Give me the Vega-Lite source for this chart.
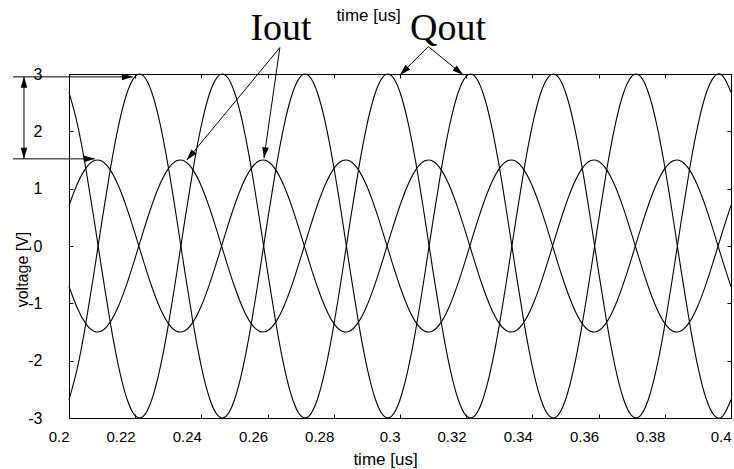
{
  "$schema": "https://vega.github.io/schema/vega-lite/v6.json",
  "width": 662,
  "height": 344,
  "autosize": {"type": "none"},
  "padding": {"left": 69, "top": 74, "right": 3, "bottom": 51},
  "background": "white",
  "config": {
    "view": {"stroke": "black", "strokeWidth": 1},
    "axis": {
      "grid": false,
      "domain": false,
      "tickColor": "black",
      "tickWidth": 1,
      "tickSize": -4,
      "labelFont": "Liberation Sans",
      "titleFont": "Liberation Sans",
      "labelColor": "black",
      "titleColor": "black",
      "titleFontWeight": "normal",
      "labelFontSize": 15
    }
  },
  "datasets": {
    "waves": [
      {"t": 0.2, "A": -2.681, "B": 2.681, "C": 0.706, "D": -0.706},
      {"t": 0.2025, "A": -2.135, "B": 2.135, "C": 1.08, "D": -1.08},
      {"t": 0.205, "A": -1.379, "B": 1.379, "C": 1.349, "D": -1.349},
      {"t": 0.2075, "A": -0.488, "B": 0.488, "C": 1.486, "D": -1.486},
      {"t": 0.21, "A": 0.451, "B": -0.451, "C": 1.477, "D": -1.477},
      {"t": 0.2125, "A": 1.345, "B": -1.345, "C": 1.323, "D": -1.323},
      {"t": 0.215, "A": 2.108, "B": -2.108, "C": 1.041, "D": -1.041},
      {"t": 0.2175, "A": 2.664, "B": -2.664, "C": 0.656, "D": -0.656},
      {"t": 0.22, "A": 2.96, "B": -2.96, "C": 0.207, "D": -0.207},
      {"t": 0.2225, "A": 2.966, "B": -2.966, "C": -0.263, "D": 0.263},
      {"t": 0.225, "A": 2.681, "B": -2.681, "C": -0.706, "D": 0.706},
      {"t": 0.2275, "A": 2.135, "B": -2.135, "C": -1.08, "D": 1.08},
      {"t": 0.23, "A": 1.379, "B": -1.379, "C": -1.349, "D": 1.349},
      {"t": 0.2325, "A": 0.488, "B": -0.488, "C": -1.486, "D": 1.486},
      {"t": 0.235, "A": -0.451, "B": 0.451, "C": -1.477, "D": 1.477},
      {"t": 0.2375, "A": -1.345, "B": 1.345, "C": -1.323, "D": 1.323},
      {"t": 0.24, "A": -2.108, "B": 2.108, "C": -1.041, "D": 1.041},
      {"t": 0.2425, "A": -2.664, "B": 2.664, "C": -0.656, "D": 0.656},
      {"t": 0.245, "A": -2.96, "B": 2.96, "C": -0.207, "D": 0.207},
      {"t": 0.2475, "A": -2.966, "B": 2.966, "C": 0.263, "D": -0.263},
      {"t": 0.25, "A": -2.681, "B": 2.681, "C": 0.706, "D": -0.706},
      {"t": 0.2525, "A": -2.135, "B": 2.135, "C": 1.08, "D": -1.08},
      {"t": 0.255, "A": -1.379, "B": 1.379, "C": 1.349, "D": -1.349},
      {"t": 0.2575, "A": -0.488, "B": 0.488, "C": 1.486, "D": -1.486},
      {"t": 0.26, "A": 0.451, "B": -0.451, "C": 1.477, "D": -1.477},
      {"t": 0.2625, "A": 1.345, "B": -1.345, "C": 1.323, "D": -1.323},
      {"t": 0.265, "A": 2.108, "B": -2.108, "C": 1.041, "D": -1.041},
      {"t": 0.2675, "A": 2.664, "B": -2.664, "C": 0.656, "D": -0.656},
      {"t": 0.27, "A": 2.96, "B": -2.96, "C": 0.207, "D": -0.207},
      {"t": 0.2725, "A": 2.966, "B": -2.966, "C": -0.263, "D": 0.263},
      {"t": 0.275, "A": 2.681, "B": -2.681, "C": -0.706, "D": 0.706},
      {"t": 0.2775, "A": 2.135, "B": -2.135, "C": -1.08, "D": 1.08},
      {"t": 0.28, "A": 1.379, "B": -1.379, "C": -1.349, "D": 1.349},
      {"t": 0.2825, "A": 0.488, "B": -0.488, "C": -1.486, "D": 1.486},
      {"t": 0.285, "A": -0.451, "B": 0.451, "C": -1.477, "D": 1.477},
      {"t": 0.2875, "A": -1.345, "B": 1.345, "C": -1.323, "D": 1.323},
      {"t": 0.29, "A": -2.108, "B": 2.108, "C": -1.041, "D": 1.041},
      {"t": 0.2925, "A": -2.664, "B": 2.664, "C": -0.656, "D": 0.656},
      {"t": 0.295, "A": -2.96, "B": 2.96, "C": -0.207, "D": 0.207},
      {"t": 0.2975, "A": -2.966, "B": 2.966, "C": 0.263, "D": -0.263},
      {"t": 0.3, "A": -2.681, "B": 2.681, "C": 0.706, "D": -0.706},
      {"t": 0.3025, "A": -2.135, "B": 2.135, "C": 1.08, "D": -1.08},
      {"t": 0.305, "A": -1.379, "B": 1.379, "C": 1.349, "D": -1.349},
      {"t": 0.3075, "A": -0.488, "B": 0.488, "C": 1.486, "D": -1.486},
      {"t": 0.31, "A": 0.451, "B": -0.451, "C": 1.477, "D": -1.477},
      {"t": 0.3125, "A": 1.345, "B": -1.345, "C": 1.323, "D": -1.323},
      {"t": 0.315, "A": 2.108, "B": -2.108, "C": 1.041, "D": -1.041},
      {"t": 0.3175, "A": 2.664, "B": -2.664, "C": 0.656, "D": -0.656},
      {"t": 0.32, "A": 2.96, "B": -2.96, "C": 0.207, "D": -0.207},
      {"t": 0.3225, "A": 2.966, "B": -2.966, "C": -0.263, "D": 0.263},
      {"t": 0.325, "A": 2.681, "B": -2.681, "C": -0.706, "D": 0.706},
      {"t": 0.3275, "A": 2.135, "B": -2.135, "C": -1.08, "D": 1.08},
      {"t": 0.33, "A": 1.379, "B": -1.379, "C": -1.349, "D": 1.349},
      {"t": 0.3325, "A": 0.488, "B": -0.488, "C": -1.486, "D": 1.486},
      {"t": 0.335, "A": -0.451, "B": 0.451, "C": -1.477, "D": 1.477},
      {"t": 0.3375, "A": -1.345, "B": 1.345, "C": -1.323, "D": 1.323},
      {"t": 0.34, "A": -2.108, "B": 2.108, "C": -1.041, "D": 1.041},
      {"t": 0.3425, "A": -2.664, "B": 2.664, "C": -0.656, "D": 0.656},
      {"t": 0.345, "A": -2.96, "B": 2.96, "C": -0.207, "D": 0.207},
      {"t": 0.3475, "A": -2.966, "B": 2.966, "C": 0.263, "D": -0.263},
      {"t": 0.35, "A": -2.681, "B": 2.681, "C": 0.706, "D": -0.706},
      {"t": 0.3525, "A": -2.135, "B": 2.135, "C": 1.08, "D": -1.08},
      {"t": 0.355, "A": -1.379, "B": 1.379, "C": 1.349, "D": -1.349},
      {"t": 0.3575, "A": -0.488, "B": 0.488, "C": 1.486, "D": -1.486},
      {"t": 0.36, "A": 0.451, "B": -0.451, "C": 1.477, "D": -1.477},
      {"t": 0.3625, "A": 1.345, "B": -1.345, "C": 1.323, "D": -1.323},
      {"t": 0.365, "A": 2.108, "B": -2.108, "C": 1.041, "D": -1.041},
      {"t": 0.3675, "A": 2.664, "B": -2.664, "C": 0.656, "D": -0.656},
      {"t": 0.37, "A": 2.96, "B": -2.96, "C": 0.207, "D": -0.207},
      {"t": 0.3725, "A": 2.966, "B": -2.966, "C": -0.263, "D": 0.263},
      {"t": 0.375, "A": 2.681, "B": -2.681, "C": -0.706, "D": 0.706},
      {"t": 0.3775, "A": 2.135, "B": -2.135, "C": -1.08, "D": 1.08},
      {"t": 0.38, "A": 1.379, "B": -1.379, "C": -1.349, "D": 1.349},
      {"t": 0.3825, "A": 0.488, "B": -0.488, "C": -1.486, "D": 1.486},
      {"t": 0.385, "A": -0.451, "B": 0.451, "C": -1.477, "D": 1.477},
      {"t": 0.3875, "A": -1.345, "B": 1.345, "C": -1.323, "D": 1.323},
      {"t": 0.39, "A": -2.108, "B": 2.108, "C": -1.041, "D": 1.041},
      {"t": 0.3925, "A": -2.664, "B": 2.664, "C": -0.656, "D": 0.656},
      {"t": 0.395, "A": -2.96, "B": 2.96, "C": -0.207, "D": 0.207},
      {"t": 0.3975, "A": -2.966, "B": 2.966, "C": 0.263, "D": -0.263},
      {"t": 0.4, "A": -2.681, "B": 2.681, "C": 0.706, "D": -0.706}
    ],
    "arrows": [
      {"t1": 0.1831, "v1": 2.95, "t2": 0.2193, "v2": 2.95},
      {"t1": 0.1831, "v1": 1.52, "t2": 0.2078, "v2": 1.52},
      {"t1": 0.1864, "v1": 2.95, "t2": 0.1864, "v2": 1.52},
      {"t1": 0.2637, "v1": 3.46, "t2": 0.2356, "v2": 1.5},
      {"t1": 0.2637, "v1": 3.46, "t2": 0.2589, "v2": 1.53},
      {"t1": 0.30855, "v1": 3.478, "t2": 0.3, "v2": 2.984},
      {"t1": 0.30855, "v1": 3.478, "t2": 0.3191, "v2": 2.984}
    ],
    "heads": [
      {"t": 0.2193, "v": 2.95, "dir": 0},
      {"t": 0.2078, "v": 1.52, "dir": 0},
      {"t": 0.1864, "v": 2.95, "dir": 270},
      {"t": 0.1864, "v": 1.52, "dir": 90},
      {"t": 0.2356, "v": 1.5, "dir": 129.8},
      {"t": 0.2589, "v": 1.53, "dir": 98.3},
      {"t": 0.3, "v": 2.984, "dir": 135},
      {"t": 0.3191, "v": 2.984, "dir": 39}
    ],
    "labels": [
      {"t": 0.26405, "v": 3.6, "label": "Iout"},
      {"t": 0.3145, "v": 3.6, "label": "Qout"}
    ]
  },
  "layer": [
    {
      "data": {"name": "waves"},
      "transform": [{"fold": ["A", "B", "C", "D"], "as": ["curve", "v"]}],
      "mark": {"type": "line", "color": "black", "strokeWidth": 1.1, "interpolate": "natural"},
      "encoding": {
        "x": {
          "field": "t",
          "type": "quantitative",
          "scale": {"domain": [0.2, 0.4], "nice": false, "zero": false},
          "axis": {
            "orient": "bottom",
            "values": [0.2, 0.22, 0.24, 0.26, 0.28, 0.3, 0.32, 0.34, 0.36, 0.38, 0.4],
            "format": ".2~f",
            "labelAlign": "right",
            "labelDx": 3,
            "labelPadding": 15,
            "title": "time [us]",
            "titleFontSize": 17,
            "titleX": 316,
            "titleY": 46,
            "titleAlign": "center",
            "titleBaseline": "alphabetic"
          }
        },
        "y": {
          "field": "v",
          "type": "quantitative",
          "scale": {"domain": [-3, 3], "nice": false, "zero": false},
          "axis": {
            "orient": "left",
            "values": [-3, -2, -1, 0, 1, 2, 3],
            "labelExpr": "'' + datum.value",
            "labelFontSize": 16,
            "labelPadding": 31,
            "title": "voltage [V]",
            "titleFontSize": 16,
            "titleAngle": 270,
            "titleX": -47,
            "titleY": 195,
            "titleAlign": "center",
            "titleBaseline": "middle"
          }
        },
        "detail": {"field": "curve"}
      }
    },
    {
      "data": {"name": "arrows"},
      "mark": {"type": "rule", "color": "black", "strokeWidth": 1},
      "encoding": {
        "x": {"field": "t1", "type": "quantitative", "axis": null},
        "y": {"field": "v1", "type": "quantitative", "axis": null},
        "x2": {"field": "t2"},
        "y2": {"field": "v2"}
      }
    },
    {
      "data": {"name": "heads"},
      "mark": {"type": "point", "shape": "M0,0L-1,-0.3L-1,0.3Z", "filled": true, "color": "black", "opacity": 1, "size": 484, "strokeWidth": 0},
      "encoding": {
        "x": {
          "field": "t",
          "type": "quantitative",
          "axis": {
            "orient": "top",
            "values": [0.2, 0.22, 0.24, 0.26, 0.28, 0.3, 0.32, 0.34, 0.36, 0.38, 0.4],
            "labels": false,
            "title": "time [us]",
            "titleFontSize": 17,
            "titleX": 299,
            "titleY": -54,
            "titleAlign": "center",
            "titleBaseline": "alphabetic"
          }
        },
        "y": {
          "field": "v",
          "type": "quantitative",
          "axis": {
            "orient": "right",
            "values": [-3, -2, -1, 0, 1, 2, 3],
            "labels": false,
            "title": null
          }
        },
        "angle": {"field": "dir", "type": "quantitative", "scale": null}
      }
    },
    {
      "data": {"name": "labels"},
      "mark": {"type": "text", "font": "Liberation Serif", "fontSize": 38, "align": "center", "baseline": "alphabetic", "color": "black"},
      "encoding": {
        "x": {"field": "t", "type": "quantitative", "axis": null},
        "y": {"field": "v", "type": "quantitative", "axis": null},
        "text": {"field": "label"}
      }
    }
  ]
}
